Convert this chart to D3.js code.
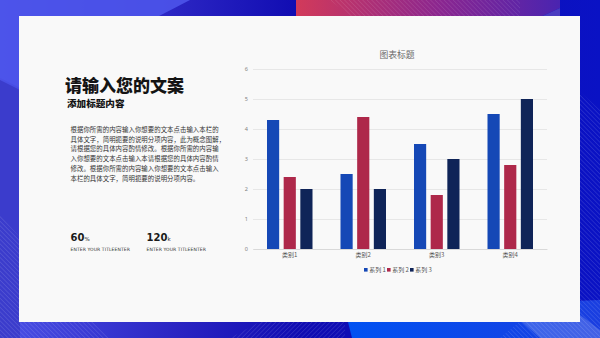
<!DOCTYPE html>
<html>
<head>
<meta charset="utf-8">
<script src="https://cdn.jsdelivr.net/npm/d3@7/dist/d3.min.js"></script>
<style>
  html, body { margin: 0; padding: 0; background: #fff; }
  svg { display: block; }
</style>
</head>
<body>
<svg id="slide" width="600" height="338"></svg>
<script>
// ---- chart data ----
const categories = ["类别1", "类别2", "类别3", "类别4"];
const seriesNames = ["系列 1", "系列 2", "系列 3"];
const series1 = [4.3, 2.5, 3.5, 4.5];
const series2 = [2.4, 4.4, 1.8, 2.8];
const series3 = [2.0, 2.0, 3.0, 5.0];
const yTicks = [0, 1, 2, 3, 4, 5, 6];
const seriesColors = ["#1548b6", "#ae284a", "#0f2458"];
const chartTitle = "图表标题";

// ---- slide text ----
const headline = "请输入您的文案";
const subhead = "添加标题内容";
const bodyLines = [
  "根据你所需的内容输入你想要的文本点击输入本栏的",
  "具体文字，简明扼要的说明分项内容，此为概念图解，",
  "请根据您的具体内容酌情修改。根据你所需的内容输",
  "入你想要的文本点击输入本请根据您的具体内容酌情",
  "修改。根据你所需的内容输入你想要的文本点击输入",
  "本栏的具体文字，简明扼要的说明分项内容。"
];
const stats = [
  { value: "60", unit: "%", caption: "ENTER YOUR TITLEENTER" },
  { value: "120", unit: "k", caption: "ENTER YOUR TITLEENTER" }
];

const svg = d3.select("#slide");
const defs = svg.append("defs");

// ---- background ----
const bgGrad = defs.append("linearGradient").attr("id", "bgGrad")
  .attr("x1", 0).attr("y1", 0).attr("x2", 1).attr("y2", 0);
bgGrad.append("stop").attr("offset", "0%").attr("stop-color", "#4a50e6");
bgGrad.append("stop").attr("offset", "30%").attr("stop-color", "#2a24c2");
bgGrad.append("stop").attr("offset", "50%").attr("stop-color", "#100cb2");
bgGrad.append("stop").attr("offset", "100%").attr("stop-color", "#0a12c4");

const pinkGrad = defs.append("linearGradient").attr("id", "pinkGrad")
  .attr("x1", 0).attr("y1", 0).attr("x2", 1).attr("y2", 0);
pinkGrad.append("stop").attr("offset", "0%").attr("stop-color", "#d23a5a");
pinkGrad.append("stop").attr("offset", "55%").attr("stop-color", "#8a2690");
pinkGrad.append("stop").attr("offset", "100%").attr("stop-color", "#4a24b0");

const brightGrad = defs.append("linearGradient").attr("id", "brightGrad")
  .attr("x1", 0).attr("y1", 0).attr("x2", 1).attr("y2", 0);
brightGrad.append("stop").attr("offset", "0%").attr("stop-color", "#0052f2");
brightGrad.append("stop").attr("offset", "100%").attr("stop-color", "#1a3ee0");

const stripes = defs.append("pattern").attr("id", "stripesA")
  .attr("width", 3.2).attr("height", 3.2)
  .attr("patternUnits", "userSpaceOnUse")
  .attr("patternTransform", "rotate(-45)");
stripes.append("line").attr("x1", 0).attr("y1", 0).attr("x2", 0).attr("y2", 3.2)
  .attr("stroke", "rgba(255,255,255,0.28)").attr("stroke-width", 0.7);

const stripesB = defs.append("pattern").attr("id", "stripesB")
  .attr("width", 3.2).attr("height", 3.2)
  .attr("patternUnits", "userSpaceOnUse")
  .attr("patternTransform", "rotate(45)");
stripesB.append("line").attr("x1", 0).attr("y1", 0).attr("x2", 0).attr("y2", 3.2)
  .attr("stroke", "rgba(255,255,255,0.28)").attr("stroke-width", 0.7);

svg.append("rect").attr("width", 600).attr("height", 338).attr("fill", "url(#bgGrad)");
// lighter wedge upper-left
svg.append("path").attr("d", "M0,0 L190,0 L20,88 L0,78 Z").attr("fill", "#4d54ea").attr("opacity", 0.9);
// darker lower-left block
svg.append("path").attr("d", "M0,80 L20,90 L20,338 L0,338 Z").attr("fill", "#3b3ccc");
svg.append("path").attr("d", "M0,215 L110,338 L0,338 Z").attr("fill", "url(#stripesA)");
// pink/purple sweep at top
svg.append("path").attr("d", "M296,0 L560,0 L560,8 L490,40 L296,40 Z").attr("fill", "url(#pinkGrad)");
svg.append("path").attr("d", "M330,0 L520,0 L520,40 L380,40 Z").attr("fill", "url(#stripesA)").attr("opacity", 0.8);
svg.append("path").attr("d", "M490,40 L560,8 L560,40 Z").attr("fill", "#4a3cc0");
// bright blue bottom-right
svg.append("path").attr("d", "M345,310 L600,300 L600,338 L352,338 Z").attr("fill", "url(#brightGrad)");
svg.append("path").attr("d", "M230,338 L300,300 L345,300 L345,338 Z").attr("fill", "url(#stripesB)");
svg.append("path").attr("d", "M545,60 L600,110 L600,338 L500,338 L545,300 Z").attr("fill", "url(#stripesA)");
svg.append("path").attr("d", "M520,320 L560,300 L600,330 L600,338 L540,338 Z").attr("fill", "rgba(255,255,255,0.18)");

// white panel
svg.append("rect").attr("x", 19).attr("y", 16).attr("width", 561).attr("height", 306)
  .attr("fill", "#f9f9f9");

// ---- left text block ----
const cjk = "'Noto Sans CJK SC', 'Noto Sans', sans-serif";
svg.append("text").attr("x", 65).attr("y", 92)
  .attr("font-family", cjk).attr("font-weight", 900).attr("font-size", 17)
  .attr("fill", "#141414").text(headline);
svg.append("text").attr("x", 67).attr("y", 107)
  .attr("font-family", cjk).attr("font-weight", 900).attr("font-size", 9.6)
  .attr("fill", "#141414").text(subhead);

svg.append("g").selectAll("text").data(bodyLines).join("text")
  .attr("x", 70.5).attr("y", (d, i) => 131.8 + i * 9.8)
  .attr("font-family", cjk).attr("font-size", 6.4).attr("letter-spacing", 0.05)
  .attr("fill", "#333").text(d => d);

const statG = svg.append("g").selectAll("g").data(stats).join("g")
  .attr("transform", (d, i) => `translate(${70.5 + i * 76},0)`);
statG.append("text").attr("y", 240.5)
  .attr("font-family", "'DejaVu Sans', sans-serif").attr("font-weight", "bold")
  .attr("font-size", 10).attr("fill", "#1a1a1a")
  .each(function (d) {
    const t = d3.select(this);
    t.append("tspan").text(d.value);
    t.append("tspan").attr("font-size", 5.5).attr("font-weight", "normal").text(d.unit);
  });
statG.append("text").attr("y", 250.5)
  .attr("font-family", "'DejaVu Sans', sans-serif")
  .attr("font-size", 4.5).attr("letter-spacing", 0.1).attr("fill", "#333").text(d => d.caption);

// ---- bar chart ----
const plot = { left: 253, right: 547, top: 69, bottom: 249 };
const x = d3.scaleBand().domain(categories).range([plot.left, plot.right]).paddingInner(0).paddingOuter(0);
const inner = d3.scaleBand().domain(seriesNames).range([14, x.bandwidth() - 14]).paddingInner(0.27);
const y = d3.scaleLinear().domain([0, 6]).range([plot.bottom, plot.top]);

svg.append("text").attr("x", 397).attr("y", 57.5).attr("text-anchor", "middle")
  .attr("font-family", cjk).attr("font-size", 8.8).attr("fill", "#6a6a6a").text(chartTitle);

const yAxis = svg.append("g").attr("transform", `translate(${plot.left},0)`)
  .call(d3.axisLeft(y).tickValues(yTicks).tickFormat(d3.format("d"))
    .tickSize(-(plot.right - plot.left)).tickPadding(5));
yAxis.select(".domain").remove();
yAxis.selectAll(".tick line").attr("stroke", "#e2e2e2").attr("stroke-width", 0.8);
yAxis.selectAll(".tick text").attr("font-family", "'Noto Sans', sans-serif")
  .attr("font-size", 5.5).attr("fill", "#808080");

const xAxis = svg.append("g").attr("transform", `translate(0,${plot.bottom})`)
  .call(d3.axisBottom(x).tickSize(0).tickPadding(4));
xAxis.select(".domain").attr("stroke", "#d6d6d6").attr("stroke-width", 0.8);
xAxis.selectAll(".tick text").attr("font-family", cjk)
  .attr("font-size", 6).attr("fill", "#555");

const allSeries = [series1, series2, series3];
const rows = categories.flatMap((c, ci) =>
  seriesNames.map((s, si) => ({ cat: c, name: s, si, value: allSeries[si][ci] })));

svg.append("g").selectAll("rect").data(rows).join("rect")
  .attr("x", d => x(d.cat) + inner(d.name))
  .attr("width", inner.bandwidth())
  .attr("y", d => y(d.value))
  .attr("height", d => y(0) - y(d.value))
  .attr("fill", d => seriesColors[d.si]);

// legend
const legend = svg.append("g").selectAll("g").data(seriesNames).join("g")
  .attr("transform", (d, i) => `translate(${364 + i * 23},270)`);
legend.append("rect").attr("x", 0).attr("y", -2).attr("width", 3.6).attr("height", 3.6)
  .attr("fill", (d, i) => seriesColors[i]);
legend.append("text").attr("x", 5.2).attr("y", 2.2)
  .attr("font-family", cjk).attr("font-size", 6).attr("fill", "#555").text(d => d);
</script>
</body>
</html>
